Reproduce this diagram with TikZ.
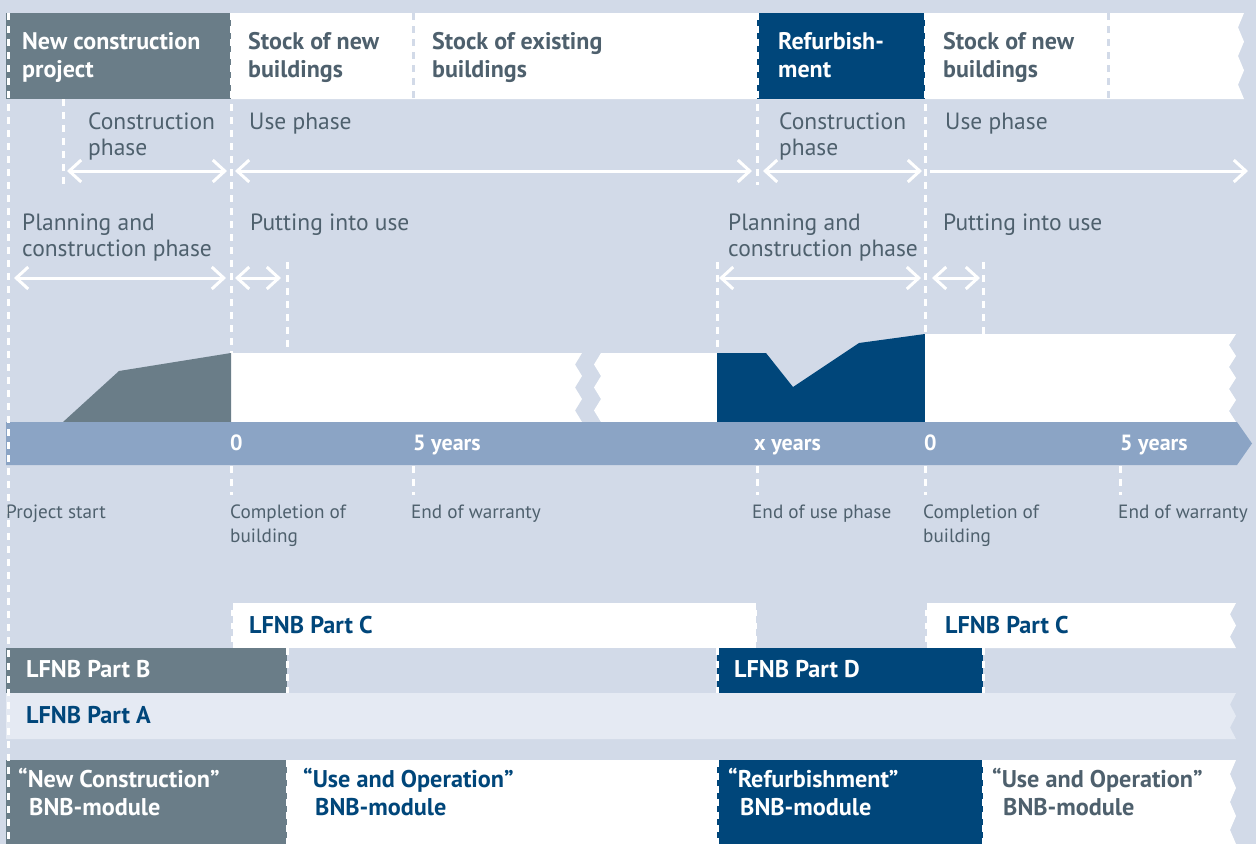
\documentclass[tikz,border=0pt]{standalone}
\usepackage{fontspec}
\setmainfont{PT Sans}
\usetikzlibrary{arrows.meta}
\definecolor{bg}{HTML}{D2DAE8}
\definecolor{slate}{HTML}{6A7D88}
\definecolor{navy}{HTML}{00467A}
\definecolor{barc}{HTML}{8BA4C5}
\definecolor{pala}{HTML}{E5EAF3}
\definecolor{txt}{HTML}{4E606D}
\begin{document}
\begin{tikzpicture}[x=1pt,y=-1pt,
  wdash/.style={draw=white,line width=3pt,dash pattern=on 7pt off 6pt},
  ldash/.style={draw=bg,line width=3pt,dash pattern=on 7pt off 6pt},
  barb/.tip={Straight Barb[length=12pt,width=22pt]},
  arr/.style={draw=white,line width=3pt,barb-barb},
  rarr/.style={draw=white,line width=3pt,-barb},
  head/.style={anchor=base west,inner sep=0,align=left,font=\fontsize{24}{28}\selectfont\bfseries},
  phase/.style={anchor=base west,inner sep=0,align=left,font=\fontsize{23.5}{26}\selectfont,text=txt},
  small/.style={anchor=base west,inner sep=0,align=left,font=\fontsize{19.2}{24}\selectfont,text=txt},
  tl/.style={anchor=base west,inner sep=0,font=\fontsize{22}{24}\selectfont\bfseries,text=white},
  part/.style={anchor=base west,inner sep=0,align=left,font=\fontsize{24.2}{28}\selectfont\bfseries},
]
\useasboundingbox (0,0) rectangle (1256,844);
\fill[bg] (0,0) rectangle (1256,844);

% ---------- top band ----------
\fill[white] (231,13) -- (1244,13) \foreach \i in {1,...,6}{ -- ({1244-6*mod(\i,2)},{13+\i*86/6}) } -- (231,99) -- cycle;
\fill[slate] (6,13) rectangle (231,99);
\fill[navy] (757,13) rectangle (925,99);
\draw[ldash] (413,13) -- (413,99);
\draw[ldash] (1108,13) -- (1108,99);

% ---------- chart ----------
\fill[white] (231,353) -- (582,353) \foreach \i in {1,...,6}{ -- ({582-7*mod(\i,2)},{353+\i*69/6}) } -- (231,422) -- cycle;
\fill[white] (601,353) -- (717,353) -- (717,422) -- (601,422) \foreach \i in {5,4,...,0}{ -- ({601-7*mod(\i,2)},{353+\i*69/6}) } -- cycle;
\fill[slate] (63,422) -- (119,371) -- (231,353) -- (231,422) -- cycle;
\fill[navy] (717,353) -- (766,353) -- (793,387) -- (859,343) -- (925,334) -- (925,422) -- (717,422) -- cycle;
\fill[white] (925,334) -- (1236,334) \foreach \i in {1,...,8}{ -- ({1236-7*mod(\i,2)},{334+\i*88/8}) } -- (925,422) -- cycle;

% ---------- timeline bar ----------
\fill[barc] (6,422) -- (1237,422) -- (1252,443.5) -- (1237,465) -- (6,465) -- cycle;

% ---------- LFNB bars ----------
\fill[white] (231,603) rectangle (757,648);
\fill[white] (925,603) -- (1236,603) \foreach \i in {1,...,4}{ -- ({1236-6*mod(\i,2)},{603+\i*45/4}) } -- (925,648) -- cycle;
\fill[slate] (6,648) rectangle (287,693);
\fill[navy] (717,648) rectangle (983,693);
\fill[pala] (6,693) -- (1236,693) \foreach \i in {1,...,4}{ -- ({1236-6*mod(\i,2)},{693+\i*46/4}) } -- (6,739) -- cycle;
\draw[ldash] (231,603) -- (231,648);
\draw[ldash] (757,603) -- (757,648);
\draw[ldash] (925,603) -- (925,648);

% ---------- BNB modules ----------
\fill[slate] (6,760) rectangle (287,844);
\fill[white] (287,760) rectangle (717,844);
\fill[navy] (717,760) rectangle (983,844);
\fill[white] (983,760) -- (1236,760) \foreach \i in {1,...,6}{ -- ({1236-6*mod(\i,2)},{760+\i*84/6}) } -- (983,844) -- cycle;

% ---------- white dashed guides ----------
\draw[wdash] (8,13) -- (8,844);
\draw[wdash] (231,13) -- (231,353);
\draw[wdash] (63,99) -- (63,185);
\draw[wdash] (287,262) -- (287,353);
\draw[wdash] (717,262) -- (717,353);
\draw[wdash] (757,13) -- (757,185);
\draw[wdash] (925,13) -- (925,334);
\draw[wdash] (983,262) -- (983,334);
\foreach \x in {231,413,757,925,1120} { \draw[wdash] (\x,466) -- (\x,495); }
\foreach \x in {287,717,983} { \draw[wdash] (\x,648) -- (\x,693); \draw[wdash] (\x,760) -- (\x,844); }

% ---------- arrows ----------
\coordinate (c1a) at (67,171);   \coordinate (c1b) at (227,171);
\coordinate (u1a) at (235,171);  \coordinate (u1b) at (752,171);
\coordinate (c2a) at (763,171);  \coordinate (c2b) at (922,171);
\coordinate (u2a) at (930,171);  \coordinate (u2b) at (1248,171);
\coordinate (p1a) at (14,278);   \coordinate (p1b) at (226,278);
\coordinate (q1a) at (235,278);  \coordinate (q1b) at (281,278);
\coordinate (p2a) at (719,278);  \coordinate (p2b) at (921,278);
\coordinate (q2a) at (932,278);  \coordinate (q2b) at (980,278);
\draw[arr] (c1a) -- (c1b);
\draw[arr] (u1a) -- (u1b);
\draw[arr] (c2a) -- (c2b);
\draw[rarr] (u2a) -- (u2b);
\draw[arr] (p1a) -- (p1b);
\draw[arr] (q1a) -- (q1b);
\draw[arr] (p2a) -- (p2b);
\draw[arr] (q2a) -- (q2b);

% ---------- texts (multi-line nodes: base = last line) ----------
\node[head,text=white] (h1) at (22,77) {New construction\\project};
\node[head,text=txt] (h2) at (248,77) {Stock of new\\buildings};
\node[head,text=txt] (h3) at (432,77) {Stock of existing\\buildings};
\node[head,text=white] (h4) at (778,77) {Refurbish-\\ment};
\node[head,text=txt] (h5) at (943,77) {Stock of new\\buildings};

\node[phase] (r1) at (88,155) {Construction\\phase};
\node[phase] (r2) at (249,129) {Use phase};
\node[phase] (r3) at (779,155) {Construction\\phase};
\node[phase] (r4) at (945,129) {Use phase};

\node[phase] (s1) at (22,256) {Planning and\\construction phase};
\node[phase] (s2) at (250,230) {Putting into use};
\node[phase] (s3) at (728,256) {Planning and\\construction phase};
\node[phase] (s4) at (943,230) {Putting into use};

\node[tl] (t1) at (230,450) {0};
\node[tl] (t2) at (413,450) {5 years};
\node[tl] (t3) at (754,450) {x years};
\node[tl] (t4) at (924,450) {0};
\node[tl] (t5) at (1120,450) {5 years};

\node[small] (b1) at (6,518) {Project start};
\node[small] (b2) at (230,542) {Completion of\\building};
\node[small] (b3) at (411,518) {End of warranty};
\node[small] (b4) at (752,518) {End of use phase};
\node[small] (b5) at (923,542) {Completion of\\building};
\node[small] (b6) at (1118,518) {End of warranty};

\node[part,text=navy] (pc1) at (249,633) {LFNB Part C};
\node[part,text=navy] (pc2) at (945,633) {LFNB Part C};
\node[part,text=white] (pb) at (26,677) {LFNB Part B};
\node[part,text=white] (pd) at (734,677) {LFNB Part D};
\node[part,text=navy] (pa) at (26,723) {LFNB Part A};

\node[part,text=white] (m1) at (18,815) {“New Construction”\\\hspace*{11pt}BNB-module};
\node[part,text=navy] (m2) at (303,815) {“Use and Operation”\\\hspace*{12pt}BNB-module};
\node[part,text=white] (m3) at (728,815) {“Refurbishment”\\\hspace*{12pt}BNB-module};
\node[part,text=txt] (m4) at (992,815) {“Use and Operation”\\\hspace*{11pt}BNB-module};
\end{tikzpicture}
\end{document}
